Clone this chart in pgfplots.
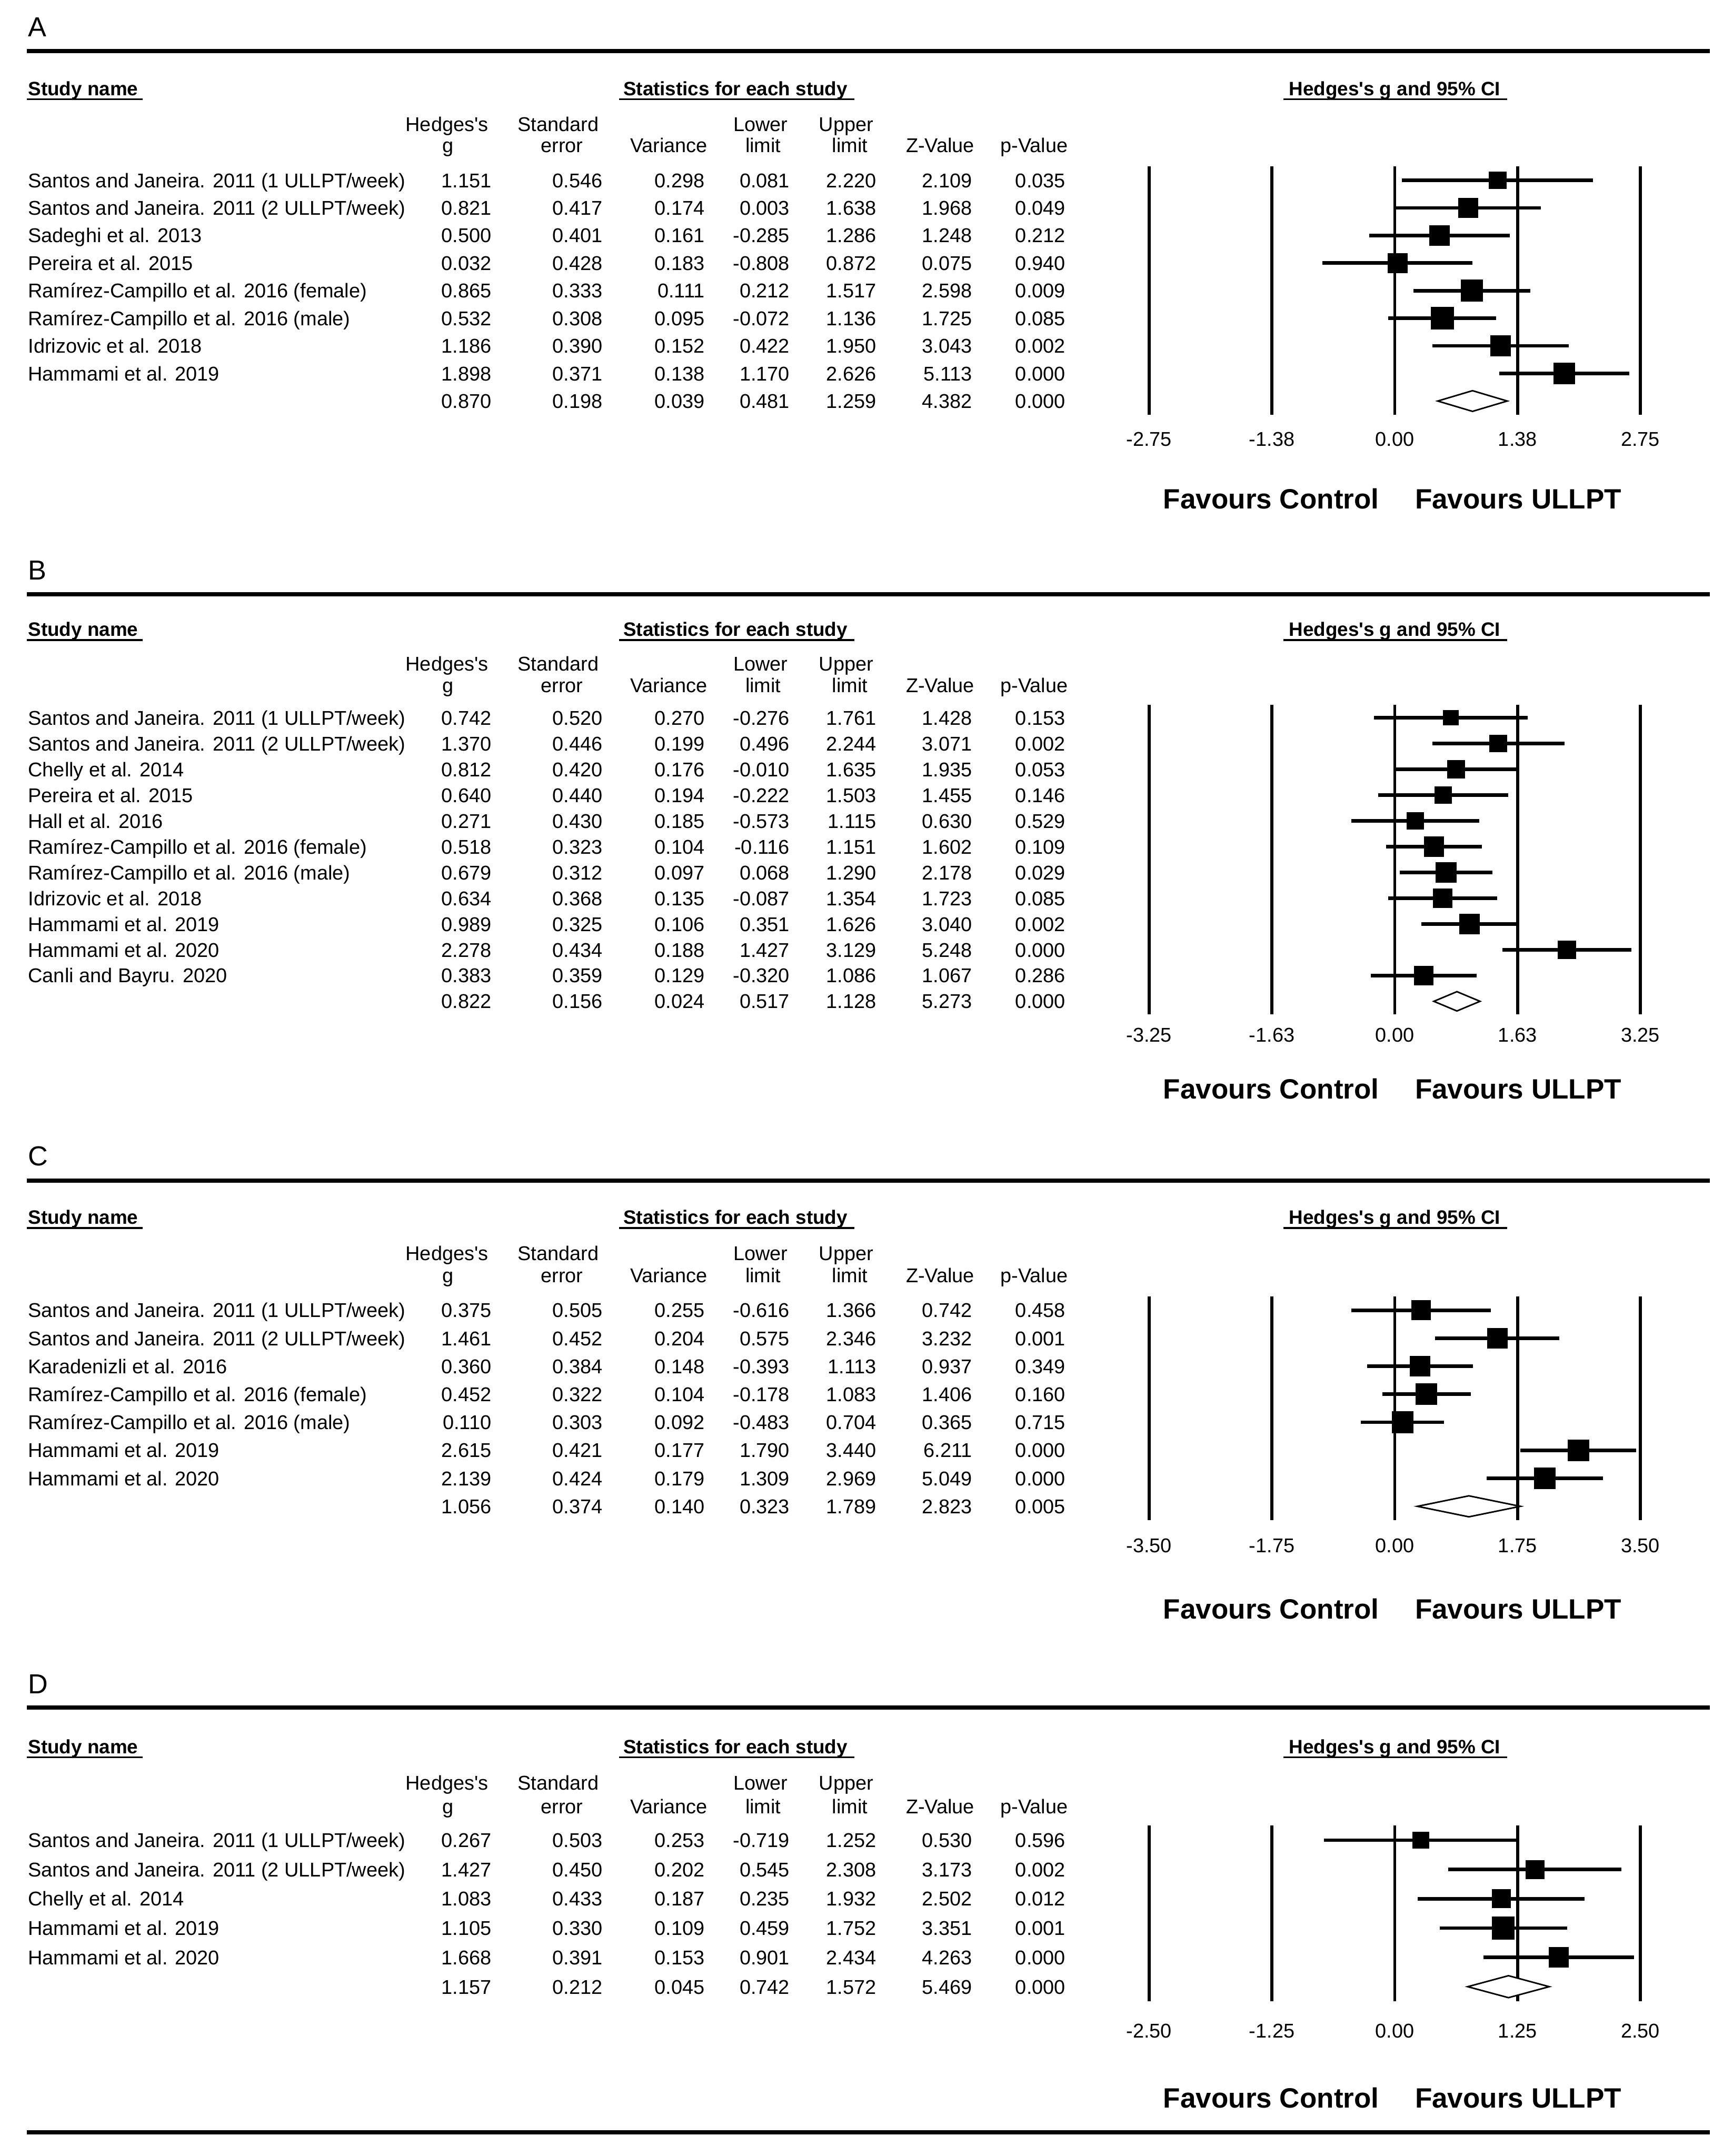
\documentclass[border=0pt]{standalone}
\usepackage{fontspec}
\setmainfont{Liberation Sans}
\usepackage{pgfplots}
\pgfplotsset{compat=1.18}

\pgfplotsset{forest/.style={
  scale only axis, anchor=north west, width=357.3pt,
  enlargelimits=false,
  axis line style={draw=none}, major tick length=0pt,
  ytick=\empty, xmajorgrids, major grid style={black,line width=2.2pt},
  xticklabel style={anchor=base, inner sep=0pt, font=\fontsize{14.5}{17}\selectfont},
  clip=false,
  /pgf/number format/assume math mode=true,
}}
\pgfplotsset{studies/.style={
  only marks, mark=square*, black,
  scatter, scatter/use mapped color={draw=black, fill=black},
  visualization depends on={\thisrow{s}/2 \as \msz},
  scatter/@pre marker code/.append style={/tikz/mark size=\msz},
  error bars/.cd, x dir=both, x explicit, error mark=none,
  error bar style={line width=2.6pt, black},
}}
\pgfplotsset{summ/.style={draw=black, fill=white, line width=1.1pt, mark=none}}

\newcommand\RS{0}\newcommand\RD{0}
\newcommand\yy[1]{{-(\RS+(#1-1)*\RD+5.2)*1pt}}
\newcommand\trow[9]{%
  \node[anchor=base west] at (20.5pt,\yy{#1}) {#2};
  \node[anchor=base east] at (357.3pt,\yy{#1}) {#3};
  \node[anchor=base east] at (438.1pt,\yy{#1}) {#4};
  \node[anchor=base east] at (512.4pt,\yy{#1}) {#5};
  \node[anchor=base east] at (574.2pt,\yy{#1}) {#6};
  \node[anchor=base east] at (637.2pt,\yy{#1}) {#7};
  \node[anchor=base east] at (706.9pt,\yy{#1}) {#8};
  \node[anchor=base east] at (774.7pt,\yy{#1}) {#9};
}
\newcommand\bfh{\fontsize{14.1}{17}\selectfont\bfseries}
\newcommand\phead[6]{%
  \node[anchor=base west,font=\fontsize{20}{24}\selectfont] at (20.5pt,{-(#2+7.2)*1pt}) {#1};
  \draw[line width=3pt] (19.5pt,{-#3*1pt}) -- (1243.5pt,{-#3*1pt});
  \node[anchor=base west,font=\bfh] (sn) at (20.5pt,{-(#4+5.05)*1pt}) {Study name};
  \draw[line width=1.3pt] ([xshift=-0.8pt,yshift=-2.7pt]sn.base west) -- ([xshift=3.5pt,yshift=-2.7pt]sn.base east);
  \node[anchor=base,font=\bfh] (st) at (534.8pt,{-(#4+5.05)*1pt}) {Statistics for each study};
  \draw[line width=1.3pt] ([xshift=-3.2pt,yshift=-2.7pt]st.base west) -- ([xshift=5pt,yshift=-2.7pt]st.base east);
  \node[anchor=base,font=\bfh] (hg) at (1014.2pt,{-(#4+5.05)*1pt}) {Hedges\textquotesingle s g and 95\% CI};
  \draw[line width=1.3pt] ([xshift=-4pt,yshift=-2.7pt]hg.base west) -- ([xshift=5pt,yshift=-2.7pt]hg.base east);
  \node[anchor=base] at (325pt,{-(#5+5.2)*1pt}) {Hedges\textquotesingle s};
  \node[anchor=base] at (325.8pt,{-(#6+5.2)*1pt}) {g};
  \node[anchor=base] at (406pt,{-(#5+5.2)*1pt}) {Standard};
  \node[anchor=base] at (408.7pt,{-(#6+5.2)*1pt}) {error};
  \node[anchor=base] at (486.3pt,{-(#6+5.2)*1pt}) {Variance};
  \node[anchor=base] at (553pt,{-(#5+5.2)*1pt}) {Lower};
  \node[anchor=base] at (555pt,{-(#6+5.2)*1pt}) {limit};
  \node[anchor=base] at (615.3pt,{-(#5+5.2)*1pt}) {Upper};
  \node[anchor=base] at (618pt,{-(#6+5.2)*1pt}) {limit};
  \node[anchor=base] at (683.7pt,{-(#6+5.2)*1pt}) {Z-Value};
  \node[anchor=base] at (752pt,{-(#6+5.2)*1pt}) {p-Value};
}
\newcommand\fav[1]{%
  \node[anchor=base west,font=\fontsize{20.3}{24}\selectfont\bfseries] at (846pt,{-(#1+7.3)*1pt}) {Favours Control};
  \node[anchor=base west,font=\fontsize{20.3}{24}\selectfont\bfseries] at (1029pt,{-(#1+7.3)*1pt}) {Favours ULLPT};
}

\begin{document}
\fontsize{14.5}{17}\selectfont
\begin{tikzpicture}[every node/.style={inner sep=0pt, outer sep=0pt}]
\useasboundingbox (0pt,0pt) rectangle (1260pt,-1568pt);

% ---------------- Panel A ----------------
\phead{A}{19.3}{37}{64.5}{90.3}{105.8}
\renewcommand\RS{131.1}\renewcommand\RD{20.07}
\trow{1}{Santos and Janeira. 2011 (1 ULLPT/week)}{1.151}{0.546}{0.298}{0.081}{2.220}{2.109}{0.035}
\trow{2}{Santos and Janeira. 2011 (2 ULLPT/week)}{0.821}{0.417}{0.174}{0.003}{1.638}{1.968}{0.049}
\trow{3}{Sadeghi et al. 2013}{0.500}{0.401}{0.161}{-0.285}{1.286}{1.248}{0.212}
\trow{4}{Pereira et al. 2015}{0.032}{0.428}{0.183}{-0.808}{0.872}{0.075}{0.940}
\trow{5}{Ramírez-Campillo et al. 2016 (female)}{0.865}{0.333}{0.111}{0.212}{1.517}{2.598}{0.009}
\trow{6}{Ramírez-Campillo et al. 2016 (male)}{0.532}{0.308}{0.095}{-0.072}{1.136}{1.725}{0.085}
\trow{7}{Idrizovic et al. 2018}{1.186}{0.390}{0.152}{0.422}{1.950}{3.043}{0.002}
\trow{8}{Hammami et al. 2019}{1.898}{0.371}{0.138}{1.170}{2.626}{5.113}{0.000}
\trow{9}{}{0.870}{0.198}{0.039}{0.481}{1.259}{4.382}{0.000}
\begin{axis}[forest, at={(835.6pt,-121.1pt)}, height=180.6pt,
  xmin=-2.75, xmax=2.75, ymin=-9.5, ymax=-0.5,
  xtick={-2.75,-1.375,0,1.375,2.75}, xticklabels={-2.75,-1.38,0.00,1.38,2.75},
  xticklabel style={yshift=-22.6pt}]
\addplot[studies] table[x=g, y=y, x error plus expr=\thisrow{hi}-\thisrow{g}, x error minus expr=\thisrow{g}-\thisrow{lo}] {
y g lo hi s
-1 1.151 0.081 2.220 12.5
-2 0.821 0.003 1.638 14.3
-3 0.500 -0.285 1.286 14.6
-4 0.032 -0.808 0.872 14.2
-5 0.865 0.212 1.517 15.8
-6 0.532 -0.072 1.136 16.3
-7 1.186 0.422 1.950 14.7
-8 1.898 1.170 2.626 15.0
};
\addplot[summ] coordinates {(0.481,-9) (0.870,-8.625) (1.259,-9) (0.870,-9.375)} -- cycle;
\end{axis}
\fav{362.6}

% ---------------- Panel B ----------------
\phead{B}{414.3}{432.2}{457.7}{482.6}{498.4}
\renewcommand\RS{522.0}\renewcommand\RD{18.75}
\trow{1}{Santos and Janeira. 2011 (1 ULLPT/week)}{0.742}{0.520}{0.270}{-0.276}{1.761}{1.428}{0.153}
\trow{2}{Santos and Janeira. 2011 (2 ULLPT/week)}{1.370}{0.446}{0.199}{0.496}{2.244}{3.071}{0.002}
\trow{3}{Chelly et al. 2014}{0.812}{0.420}{0.176}{-0.010}{1.635}{1.935}{0.053}
\trow{4}{Pereira et al. 2015}{0.640}{0.440}{0.194}{-0.222}{1.503}{1.455}{0.146}
\trow{5}{Hall et al. 2016}{0.271}{0.430}{0.185}{-0.573}{1.115}{0.630}{0.529}
\trow{6}{Ramírez-Campillo et al. 2016 (female)}{0.518}{0.323}{0.104}{-0.116}{1.151}{1.602}{0.109}
\trow{7}{Ramírez-Campillo et al. 2016 (male)}{0.679}{0.312}{0.097}{0.068}{1.290}{2.178}{0.029}
\trow{8}{Idrizovic et al. 2018}{0.634}{0.368}{0.135}{-0.087}{1.354}{1.723}{0.085}
\trow{9}{Hammami et al. 2019}{0.989}{0.325}{0.106}{0.351}{1.626}{3.040}{0.002}
\trow{10}{Hammami et al. 2020}{2.278}{0.434}{0.188}{1.427}{3.129}{5.248}{0.000}
\trow{11}{Canli and Bayru. 2020}{0.383}{0.359}{0.129}{-0.320}{1.086}{1.067}{0.286}
\trow{12}{}{0.822}{0.156}{0.024}{0.517}{1.128}{5.273}{0.000}
\begin{axis}[forest, at={(835.6pt,-512.6pt)}, height=225pt,
  xmin=-3.25, xmax=3.25, ymin=-12.5, ymax=-0.5,
  xtick={-3.25,-1.625,0,1.625,3.25}, xticklabels={-3.25,-1.63,0.00,1.63,3.25},
  xticklabel style={yshift=-20.2pt}]
\addplot[studies] table[x=g, y=y, x error plus expr=\thisrow{hi}-\thisrow{g}, x error minus expr=\thisrow{g}-\thisrow{lo}] {
y g lo hi s
-1 0.742 -0.276 1.761 11.0
-2 1.370 0.496 2.244 12.5
-3 0.812 -0.010 1.635 12.8
-4 0.640 -0.222 1.503 12.5
-5 0.271 -0.573 1.115 12.5
-6 0.518 -0.116 1.151 14.3
-7 0.679 0.068 1.290 14.8
-8 0.634 -0.087 1.354 13.8
-9 0.989 0.351 1.626 14.5
-10 2.278 1.427 3.129 12.8
-11 0.383 -0.320 1.086 13.7
};
\addplot[summ] coordinates {(0.517,-12) (0.822,-11.625) (1.128,-12) (0.822,-12.375)} -- cycle;
\end{axis}
\fav{792}

% ---------------- Panel C ----------------
\phead{C}{840.7}{858.5}{885.3}{911.6}{927.4}
\renewcommand\RS{952.9}\renewcommand\RD{20.37}
\trow{1}{Santos and Janeira. 2011 (1 ULLPT/week)}{0.375}{0.505}{0.255}{-0.616}{1.366}{0.742}{0.458}
\trow{2}{Santos and Janeira. 2011 (2 ULLPT/week)}{1.461}{0.452}{0.204}{0.575}{2.346}{3.232}{0.001}
\trow{3}{Karadenizli et al. 2016}{0.360}{0.384}{0.148}{-0.393}{1.113}{0.937}{0.349}
\trow{4}{Ramírez-Campillo et al. 2016 (female)}{0.452}{0.322}{0.104}{-0.178}{1.083}{1.406}{0.160}
\trow{5}{Ramírez-Campillo et al. 2016 (male)}{0.110}{0.303}{0.092}{-0.483}{0.704}{0.365}{0.715}
\trow{6}{Hammami et al. 2019}{2.615}{0.421}{0.177}{1.790}{3.440}{6.211}{0.000}
\trow{7}{Hammami et al. 2020}{2.139}{0.424}{0.179}{1.309}{2.969}{5.049}{0.000}
\trow{8}{}{1.056}{0.374}{0.140}{0.323}{1.789}{2.823}{0.005}
\begin{axis}[forest, at={(835.6pt,-942.7pt)}, height=163pt,
  xmin=-3.5, xmax=3.5, ymin=-8.5, ymax=-0.5,
  xtick={-3.5,-1.75,0,1.75,3.5}, xticklabels={-3.50,-1.75,0.00,1.75,3.50},
  xticklabel style={yshift=-23.5pt}]
\addplot[studies] table[x=g, y=y, x error plus expr=\thisrow{hi}-\thisrow{g}, x error minus expr=\thisrow{g}-\thisrow{lo}] {
y g lo hi s
-1 0.375 -0.616 1.366 14.1
-2 1.461 0.575 2.346 14.6
-3 0.360 -0.393 1.113 14.6
-4 0.452 -0.178 1.083 15.2
-5 0.110 -0.483 0.704 15.4
-6 2.615 1.790 3.440 15.2
-7 2.139 1.309 2.969 15.2
};
\addplot[summ] coordinates {(0.323,-8) (1.056,-7.625) (1.789,-8) (1.056,-8.375)} -- cycle;
\end{axis}
\fav{1170}

% ---------------- Panel D ----------------
\phead{D}{1224.4}{1241.7}{1270.2}{1296.7}{1313.6}
\renewcommand\RS{1338.3}\renewcommand\RD{21.32}
\trow{1}{Santos and Janeira. 2011 (1 ULLPT/week)}{0.267}{0.503}{0.253}{-0.719}{1.252}{0.530}{0.596}
\trow{2}{Santos and Janeira. 2011 (2 ULLPT/week)}{1.427}{0.450}{0.202}{0.545}{2.308}{3.173}{0.002}
\trow{3}{Chelly et al. 2014}{1.083}{0.433}{0.187}{0.235}{1.932}{2.502}{0.012}
\trow{4}{Hammami et al. 2019}{1.105}{0.330}{0.109}{0.459}{1.752}{3.351}{0.001}
\trow{5}{Hammami et al. 2020}{1.668}{0.391}{0.153}{0.901}{2.434}{4.263}{0.000}
\trow{6}{}{1.157}{0.212}{0.045}{0.742}{1.572}{5.469}{0.000}
\begin{axis}[forest, at={(835.6pt,-1327.6pt)}, height=127.9pt,
  xmin=-2.5, xmax=2.5, ymin=-6.5, ymax=-0.5,
  xtick={-2.5,-1.25,0,1.25,2.5}, xticklabels={-2.50,-1.25,0.00,1.25,2.50},
  xticklabel style={yshift=-26.4pt}]
\addplot[studies] table[x=g, y=y, x error plus expr=\thisrow{hi}-\thisrow{g}, x error minus expr=\thisrow{g}-\thisrow{lo}] {
y g lo hi s
-1 0.267 -0.719 1.252 11.9
-2 1.427 0.545 2.308 13.4
-3 1.083 0.235 1.932 13.4
-4 1.105 0.459 1.752 16.2
-5 1.668 0.901 2.434 14.4
};
\addplot[summ] coordinates {(0.742,-6) (1.157,-5.625) (1.572,-6) (1.157,-6.375)} -- cycle;
\end{axis}
\fav{1525.5}
\draw[line width=3pt] (19.5pt,-1550.6pt) -- (1243.5pt,-1550.6pt);
\end{tikzpicture}
\end{document}
